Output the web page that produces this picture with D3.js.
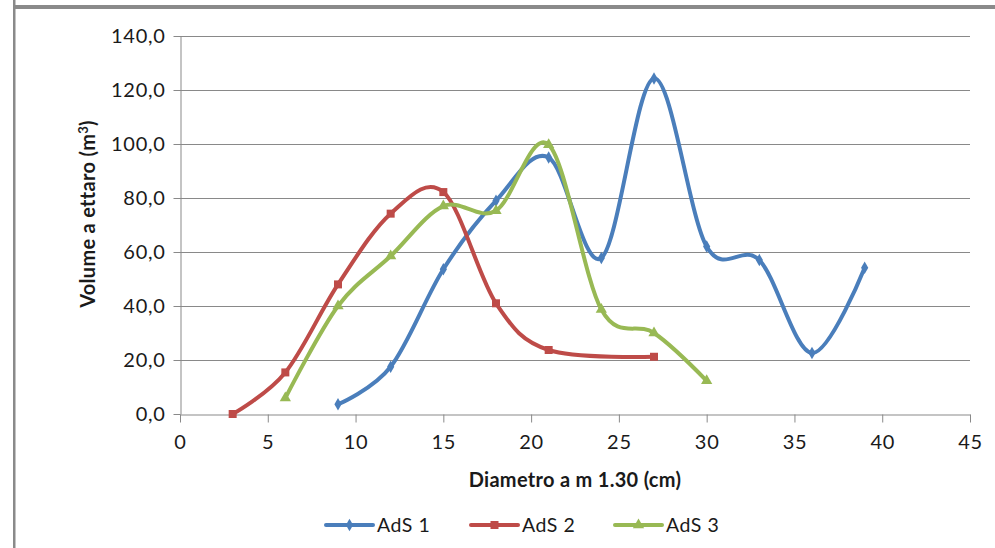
<!DOCTYPE html>
<html><head><meta charset="utf-8">
<script src="https://cdn.jsdelivr.net/npm/d3@7"></script>
<style>
html,body{margin:0;padding:0;background:#fff;}
svg{display:block;}
text{font-family:Lato,"Open Sans",sans-serif;fill:#1a1a1a;}
</style></head>
<body>
<svg id="chart" width="995" height="548"></svg>
<script>
const xDiam1 = [9,12,15,18,21,24,27,30,33,36,39];
const ads1   = [3.6,17.5,53.6,79,95,57.8,124.3,62,57,22.6,54.2];
const xDiam2 = [3,6,9,12,15,18,21,27];
const ads2   = [0,15.4,48,74.2,82.2,41,23.7,21.2];
const xDiam3 = [6,9,12,15,18,21,24,27,30];
const ads3   = [5.9,40,58.5,77,75.3,99.7,38.7,30,12.3];
const xTicks = [0,5,10,15,20,25,30,35,40,45];
const yTicks = [0,20,40,60,80,100,120,140];
const seriesNames = ["AdS 1","AdS 2","AdS 3"];
const colors = ["#4A7EBB","#BE4B48","#98B954"];

const svg = d3.select("#chart");
const x = d3.scaleLinear().domain([0,45]).range([180,970]);
const y = d3.scaleLinear().domain([0,140]).range([414,36]);
const grey = "#898989";

// frame lines
svg.append("rect").attr("x",13).attr("y",0).attr("width",2.5).attr("height",548).attr("fill","#8a8a8a");
svg.append("rect").attr("x",13).attr("y",5).attr("width",982).attr("height",4).attr("fill","#8a8a8a");

// gridlines
svg.append("g").selectAll("line").data(yTicks.filter(d=>d>0)).join("line")
  .attr("x1",x(0)).attr("x2",x(45)).attr("y1",d=>Math.round(y(d))+0.5).attr("y2",d=>Math.round(y(d))+0.5)
  .attr("stroke",grey).attr("stroke-width",1);

const fmt = d => d.toFixed(1).replace(".",",");
// y axis
const yAxis = svg.append("g").attr("transform",`translate(${x(0)+0.5},0)`)
  .call(d3.axisLeft(y).tickValues(yTicks).tickFormat(fmt).tickSize(7).tickSizeOuter(0).tickPadding(8));
// x axis
const xAxis = svg.append("g").attr("transform",`translate(0,${Math.round(y(0))+0.5})`)
  .call(d3.axisBottom(x).tickValues(xTicks).tickSize(8).tickSizeOuter(0).tickPadding(12));
[yAxis,xAxis].forEach(g=>{
  g.select(".domain").attr("stroke",grey);
  g.selectAll(".tick line").attr("stroke",grey);
  g.selectAll("text").style("font-family","Lato,'Open Sans',sans-serif").style("font-size","20px")
    .style("letter-spacing","0.7px").attr("fill","#1a1a1a");
});

// axis titles
svg.append("text").attr("x",575).attr("y",487).attr("text-anchor","middle")
  .style("font-size","20px").style("font-weight","bold").style("letter-spacing","0.3px").text("Diametro a m 1.30 (cm)");
const yt = svg.append("text").attr("transform","translate(95,214) rotate(-90)").attr("text-anchor","middle")
  .style("font-size","20px").style("font-weight","bold").style("letter-spacing","0.3px");
yt.append("tspan").text("Volume a ettaro (m");
yt.append("tspan").text("3").attr("dy",-7).style("font-size","13px");
yt.append("tspan").text(")").attr("dy",7);

// series
const line = d3.line().x(d=>x(d[0])).y(d=>y(d[1])).curve(d3.curveCatmullRom.alpha(0));
const data = [
  d3.zip(xDiam1, ads1),
  d3.zip(xDiam2, ads2),
  d3.zip(xDiam3, ads3)
];
const symbols = [d3.symbolDiamond, d3.symbolSquare, d3.symbolTriangle];
const symSizes = [45, 64, 55];
data.forEach((pts,i)=>{
  svg.append("path").datum(pts).attr("d",line).attr("fill","none")
    .attr("stroke",colors[i]).attr("stroke-width",4).attr("stroke-linejoin","round").attr("stroke-linecap","round");
  svg.append("g").selectAll("path").data(pts).join("path")
    .attr("transform",d=>`translate(${x(d[0])},${y(d[1])})`)
    .attr("d",d3.symbol(symbols[i],symSizes[i])).attr("fill",colors[i]);
});

// legend
const legX = [326,471,615];
seriesNames.forEach((n,i)=>{
  const g = svg.append("g");
  g.append("line").attr("x1",legX[i]).attr("x2",legX[i]+47).attr("y1",525).attr("y2",525)
    .attr("stroke",colors[i]).attr("stroke-width",4).attr("stroke-linecap","round");
  g.append("path").attr("transform",`translate(${legX[i]+23.5},525)`).attr("d",d3.symbol(symbols[i],symSizes[i])).attr("fill",colors[i]);
  g.append("text").attr("x",legX[i]+51).attr("y",532).style("font-size","19.5px").style("letter-spacing","0.5px").text(n);
});
</script>
</body></html>
